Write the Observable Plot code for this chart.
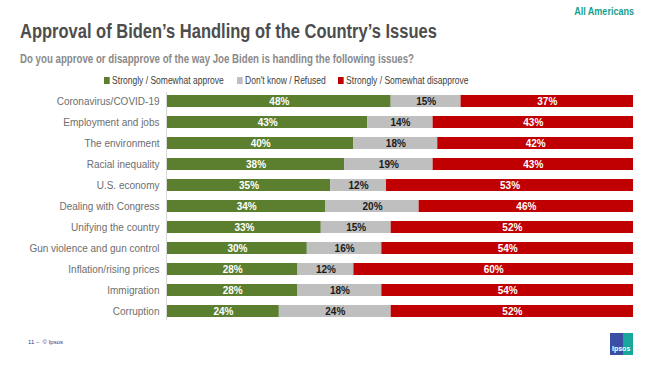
<!DOCTYPE html>
<html><head><meta charset="utf-8">
<script src="https://cdn.jsdelivr.net/npm/d3@7"></script>
<script src="https://cdn.jsdelivr.net/npm/@observablehq/plot@0.6"></script>
<style>
body{margin:0;background:#fff;font-family:"Liberation Sans",Arial,sans-serif;}
#wrap{position:relative;width:654px;height:368px;overflow:hidden;}
#head{position:relative;height:80px;}
.abs{position:absolute;white-space:nowrap;}
#title{left:20px;top:20px;font-size:20px;font-weight:bold;color:#4d4d4d;transform:scaleX(0.825);transform-origin:left center;}
#sub{left:20px;top:52px;font-size:12.5px;font-weight:bold;color:#8a8a8a;transform:scaleX(0.775);transform-origin:left center;}
#aa{right:20px;top:5px;font-size:11px;font-weight:bold;color:#16a093;transform:scaleX(0.82);transform-origin:right center;}
#legend{left:0;top:74px;width:654px;height:14px;font-size:10.5px;color:#404040;}
.li{position:absolute;top:0;display:flex;align-items:center;transform:scaleX(0.81);transform-origin:left center;}
.sw{width:7px;height:7px;margin-right:3px;}
#foot{left:28px;top:339px;font-size:6px;color:#2e3a8c;}
#logo{left:610px;top:333px;width:23px;height:22px;background:linear-gradient(90deg,#3a4fa3 55%,#17a79c 55%);color:#fff;font-size:7px;font-weight:bold;}
#logo span{position:absolute;left:2px;bottom:3px;}
</style></head>
<body><div id="wrap">
<div id="head">
<div class="abs" id="aa">All Americans</div>
<div class="abs" id="title">Approval of Biden’s Handling of the Country’s Issues</div>
<div class="abs" id="sub">Do you approve or disapprove of the way Joe Biden is handling the following issues?</div>
</div>
<div id="chart"></div>
<div class="abs" id="legend"></div>
<div class="abs" id="foot">11 –&nbsp; © Ipsos</div>
<div class="abs" id="logo"><span>Ipsos</span></div>
</div>
<script>
const issues = ["Coronavirus/COVID-19","Employment and jobs","The environment","Racial inequality","U.S. economy","Dealing with Congress","Unifying the country","Gun violence and gun control","Inflation/rising prices","Immigration","Corruption"];
const categories = ["Strongly / Somewhat approve","Don't know / Refused","Strongly / Somewhat disapprove"];
const approve    = [48,43,40,38,35,34,33,30,28,28,24];
const dontKnow   = [15,14,18,19,12,20,15,16,12,18,24];
const disapprove = [37,43,42,43,53,46,52,54,60,54,52];
const colors = ["#5b7f2f","#bfbfbf","#c00000"];
const labelColors = ["#ffffff","#1a1a1a","#ffffff"];

const series = [approve, dontKnow, disapprove];
const data = [];
issues.forEach((iss,i)=>categories.forEach((c,j)=>data.push({issue:iss,cat:c,value:series[j][i]})));

// legend
const leg = document.getElementById("legend");
const legX = [104,237,338];
categories.forEach((c,j)=>{
  const d=document.createElement("div");d.className="li";d.style.left=legX[j]+"px";
  d.innerHTML=`<div class="sw" style="background:${colors[j]}"></div><span>${c}</span>`;
  leg.appendChild(d);
});

const step = 21.1, p = 0.43;
const y0 = 20 - step*(1+p)/2;
const y1 = y0 + step*(issues.length+p);

const chart = Plot.plot({
  width:654, height:260,
  marginLeft:167, marginRight:21, marginTop:12, marginBottom:20,
  style:{fontFamily:"Liberation Sans, Arial, sans-serif", background:"#fff"},
  x:{domain:[0,100], axis:null},
  y:{domain:issues, range:[y0,y1], padding:p, label:null, tickSize:0, tickPadding:8},
  color:{domain:categories, range:colors},
  marks:[
    Plot.barX(data, Plot.stackX({x:"value", y:"issue", fill:"cat", order:categories})),
    Plot.ruleX([0], {stroke:"#d9d9d9", strokeWidth:1, dx:-1}),
    Plot.text(data, Plot.stackX({x:"value", y:"issue", z:"cat", order:categories,
      text:d=>d.value+"%", fill:d=>labelColors[categories.indexOf(d.cat)],
      fontSize:10, fontWeight:"bold"})),
    Plot.axisY({tickSize:0, tickPadding:8, fontSize:10, fill:"#6e6e6e", label:null})
  ]
});
document.getElementById("chart").appendChild(chart);
</script>
</body></html>
